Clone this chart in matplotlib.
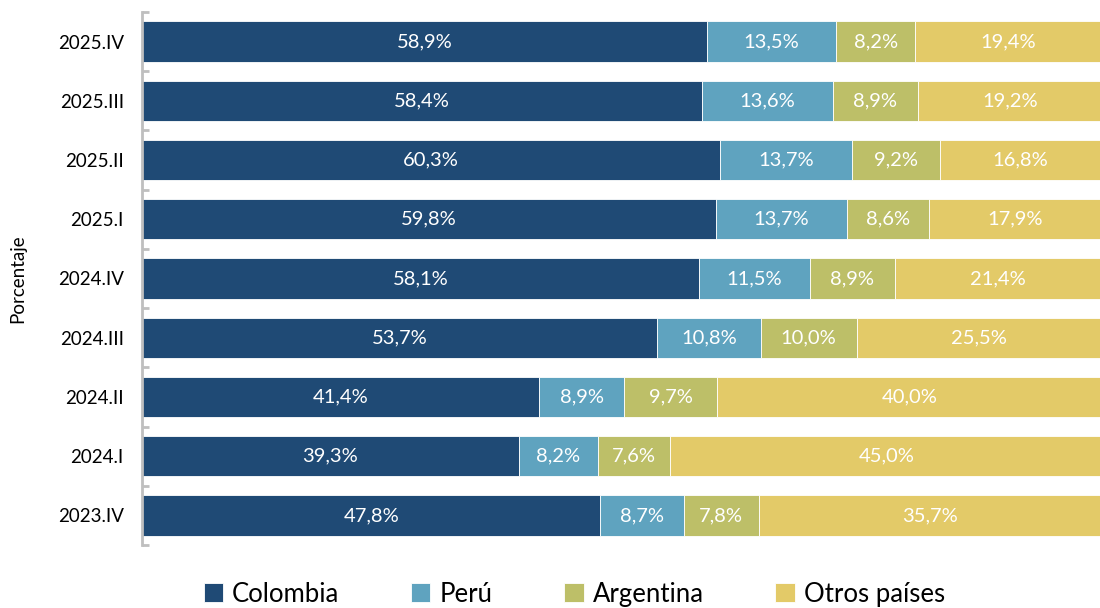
import matplotlib.pyplot as plt
import numpy as np

plt.rcParams['font.family'] = ['Lato', 'DejaVu Sans']

periods = ['2023.IV', '2024.I', '2024.II', '2024.III', '2024.IV',
           '2025.I', '2025.II', '2025.III', '2025.IV']
colombia = [47.8, 39.3, 41.4, 53.7, 58.1, 59.8, 60.3, 58.4, 58.9]
peru = [8.7, 8.2, 8.9, 10.8, 11.5, 13.7, 13.7, 13.6, 13.5]
argentina = [7.8, 7.6, 9.7, 10.0, 8.9, 8.6, 9.2, 8.9, 8.2]
otros = [35.7, 45.0, 40.0, 25.5, 21.4, 17.9, 16.8, 19.2, 19.4]

series = [('Colombia', colombia, '#1F4A75'),
          ('Perú', peru, '#5FA3BF'),
          ('Argentina', argentina, '#BDBF68'),
          ('Otros países', otros, '#E3CA68')]

fig = plt.figure(figsize=(11, 6.08), dpi=100)
ax = fig.add_axes([0.129, 0.1036, 0.872, 0.8767])

y = np.arange(len(periods))
left = np.zeros(len(periods))
for name, vals, col in series:
    vals = np.array(vals)
    ax.barh(y, vals, left=left, height=0.68, color=col, edgecolor='white',
            linewidth=0.6, label=name)
    for yi, l, v in zip(y, left, vals):
        ax.text(l + v / 2, yi, ('%.1f%%' % v).replace('.', ','), ha='center',
                va='center', color='white', fontsize=14.5)
    left += vals

ax.set_xlim(0, 100)
ax.set_ylim(-0.5, len(periods) - 0.5)
ax.set_yticks(y)
ax.set_yticklabels(periods, fontsize=13.5)
ax.set_yticks(np.arange(-0.5, len(periods)), minor=True)
ax.tick_params(axis='y', which='major', length=0, pad=13)
ax.tick_params(axis='y', which='minor', length=5, direction='in',
               color='#BFBFBF', width=2)
ax.set_xticks([])
for s in ['top', 'right', 'bottom']:
    ax.spines[s].set_visible(False)
ax.spines['left'].set_color('#BFBFBF')
ax.spines['left'].set_linewidth(2)
ax.set_ylabel('Porcentaje', fontsize=13.5, labelpad=23)

fig.legend(loc='center', bbox_to_anchor=(0.522, 0.023), ncol=4, frameon=False,
           fontsize=18.5, handlelength=0.75, handleheight=0.75, handletextpad=0.35,
           columnspacing=2.8)

fig.savefig('out.png', dpi=100)
